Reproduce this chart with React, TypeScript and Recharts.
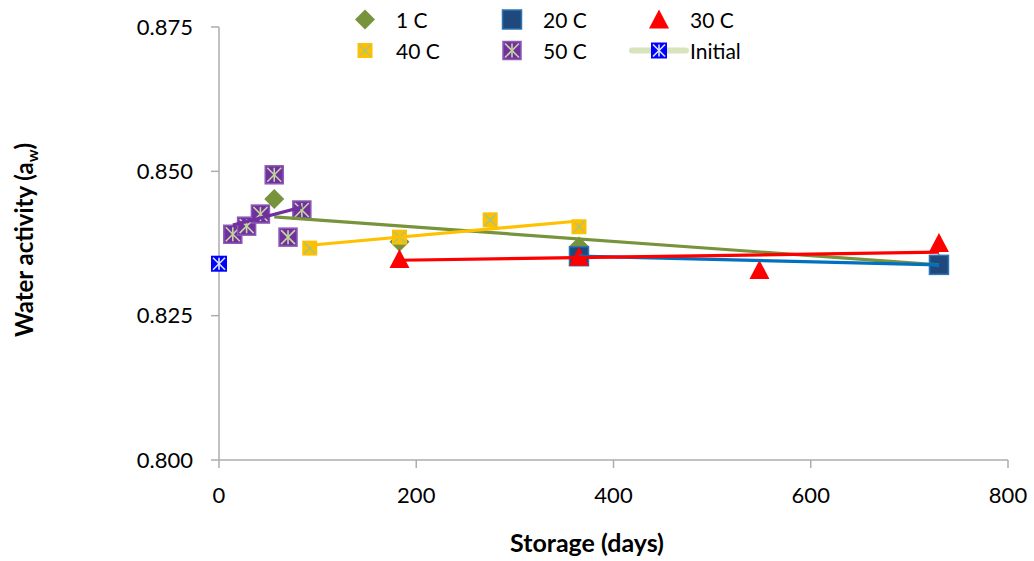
import { ComposedChart, Scatter, XAxis, YAxis, Legend, Label } from "recharts";

const FONT = "Lato, 'Open Sans', sans-serif";
const AXIS = "#ADADAD";

// storage day / water activity readings per temperature
const c1Days = [56, 183, 365, 730];
const c1Aw = [0.8452, 0.8378, 0.837, 0.834];
const c20Days = [365, 730];
const c20Aw = [0.8353, 0.8338];
const c30Days = [183, 365, 548, 730];
const c30Aw = [0.8348, 0.8352, 0.8329, 0.8376];
const c40Days = [92, 183, 275, 365];
const c40Aw = [0.8367, 0.8386, 0.8416, 0.8404];
const c50Days = [14, 28, 42, 56, 70, 84];
const c50Aw = [0.8391, 0.8405, 0.8426, 0.8494, 0.8386, 0.8433];
const initialDays = [0];
const initialAw = [0.834];

// linear trend lines (start / end)
const c1TrendDays = [56, 730];
const c1TrendAw = [0.8421, 0.8338];
const c20TrendDays = [365, 730];
const c20TrendAw = [0.8353, 0.8338];
const c30TrendDays = [183, 730];
const c30TrendAw = [0.8346, 0.836];
const c40TrendDays = [92, 365];
const c40TrendAw = [0.8372, 0.8414];
const c50TrendDays = [14, 84];
const c50TrendAw = [0.8407, 0.8438];

const xTicks = [0, 200, 400, 600, 800];
const yTicks = [0.8, 0.825, 0.85, 0.875];

const pts = (xs: number[], ys: number[]) => xs.map((x, i) => ({ x, y: ys[i] }));

type Kind = "diamond" | "square" | "triangle" | "cross" | "star";

interface MarkerStyle {
  kind: Kind;
  size: number;
  fill: string;
  stroke?: string;
  accent?: string;
}

function Marker({ cx, cy, m }: { cx: number; cy: number; m: MarkerStyle }) {
  const h = m.size / 2;
  if (m.kind === "diamond") {
    return (
      <polygon
        points={`${cx},${cy - h} ${cx + h},${cy} ${cx},${cy + h} ${cx - h},${cy}`}
        fill={m.fill}
      />
    );
  }
  if (m.kind === "triangle") {
    return (
      <polygon
        points={`${cx},${cy - h} ${cx + h},${cy + h * 0.9} ${cx - h},${cy + h * 0.9}`}
        fill={m.fill}
      />
    );
  }
  const i = 2;
  return (
    <g>
      <rect
        x={cx - h}
        y={cy - h}
        width={m.size}
        height={m.size}
        fill={m.fill}
        stroke={m.stroke ?? "none"}
        strokeWidth={1.5}
      />
      {(m.kind === "cross" || m.kind === "star") && (
        <g stroke={m.accent} strokeWidth={1.6}>
          <line x1={cx - h + i} y1={cy - h + i} x2={cx + h - i} y2={cy + h - i} />
          <line x1={cx - h + i} y1={cy + h - i} x2={cx + h - i} y2={cy - h + i} />
          {m.kind === "star" && <line x1={cx} y1={cy - h + i} x2={cx} y2={cy + h - i} />}
        </g>
      )}
    </g>
  );
}

const series = [
  { name: "1 C", data: pts(c1Days, c1Aw), m: { kind: "diamond", size: 20, fill: "#77933C" } as MarkerStyle },
  { name: "20 C", data: pts(c20Days, c20Aw), m: { kind: "square", size: 19, fill: "#1F497D", stroke: "#2E75B6" } as MarkerStyle },
  { name: "30 C", data: pts(c30Days, c30Aw), m: { kind: "triangle", size: 20, fill: "#FF0000" } as MarkerStyle },
  { name: "40 C", data: pts(c40Days, c40Aw), m: { kind: "cross", size: 15, fill: "#FFC000", accent: "#A9C47F" } as MarkerStyle },
  { name: "50 C", data: pts(c50Days, c50Aw), m: { kind: "star", size: 18, fill: "#7030A0", stroke: "#8E5AB8", accent: "#C3D69B" } as MarkerStyle },
  { name: "Initial", data: pts(initialDays, initialAw), m: { kind: "star", size: 16, fill: "#0000FF", accent: "#DCE6F2" } as MarkerStyle },
];

const trends = [
  { data: pts(c1TrendDays, c1TrendAw), color: "#77933C" },
  { data: pts(c20TrendDays, c20TrendAw), color: "#0070C0" },
  { data: pts(c30TrendDays, c30TrendAw), color: "#FF0000" },
  { data: pts(c40TrendDays, c40TrendAw), color: "#FFC000" },
  { data: pts(c50TrendDays, c50TrendAw), color: "#7030A0" },
];

function LegendBox() {
  return (
    <div
      style={{
        display: "grid",
        gridTemplateColumns: "repeat(3, 147px)",
        fontFamily: FONT,
        fontSize: 21,
        color: "#000",
      }}
    >
      {series.map((s) => (
        <div key={s.name} style={{ display: "flex", alignItems: "center", height: 31 }}>
          <svg width={60} height={31} style={{ flex: "none" }}>
            {s.name === "Initial" && (
              <line x1={3} y1={15.5} x2={57} y2={15.5} stroke="#D7E4BD" strokeWidth={6} strokeLinecap="round" />
            )}
            <Marker cx={30} cy={15.5} m={s.m} />
          </svg>
          <span style={{ marginLeft: 1, whiteSpace: "nowrap" }}>{s.name}</span>
        </div>
      ))}
    </div>
  );
}

const noDot = () => <g />;

export default function App() {
  return (
    <div style={{ position: "absolute", left: 0, top: 0, background: "#fff" }}>
      <ComposedChart width={1034} height={561} margin={{ top: 27, right: 26, bottom: 0, left: 0 }}>
        <XAxis
          type="number"
          dataKey="x"
          domain={[0, 800]}
          ticks={xTicks}
          interval={0}
          height={101}
          tickSize={8}
          tickMargin={19}
          axisLine={{ stroke: AXIS, strokeWidth: 1.5 }}
          tickLine={{ stroke: AXIS, strokeWidth: 1.5 }}
          tick={{ fill: "#000", fontSize: 22, fontFamily: FONT }}
        >
          <Label
            content={() => (
              <text x={587} y={552} textAnchor="middle" fontFamily={FONT} fontWeight="bold" fontSize={25} fill="#000">
                Storage (days)
              </text>
            )}
          />
        </XAxis>
        <YAxis
          type="number"
          dataKey="y"
          domain={[0.8, 0.875]}
          ticks={yTicks}
          interval={0}
          width={219}
          tickSize={8}
          tickMargin={18}
          tickFormatter={(v: number) => v.toFixed(3)}
          axisLine={{ stroke: AXIS, strokeWidth: 1.5 }}
          tickLine={{ stroke: AXIS, strokeWidth: 1.5 }}
          tick={{ fill: "#000", fontSize: 22, fontFamily: FONT }}
        >
          <Label
            content={() => (
              <text
                transform="translate(33 240) rotate(-90)"
                textAnchor="middle"
                fontFamily={FONT}
                fontWeight="bold"
                fontSize={24}
                fill="#000"
              >
                Water activity (a
                <tspan fontSize={16} dy={5}>w</tspan>
                <tspan dy={-5}>)</tspan>
              </text>
            )}
          />
        </YAxis>
        <Legend
          verticalAlign="middle"
          layout="horizontal"
          align="center"
          content={() => <LegendBox />}
          wrapperStyle={{ top: 4, left: 335, width: 441 }}
        />
        {series.map((s) => (
          <Scatter
            key={s.name}
            name={s.name}
            data={s.data}
            isAnimationActive={false}
            shape={(p: any) => <Marker cx={p.cx} cy={p.cy} m={s.m} />}
          />
        ))}
        {trends.map((t, k) => (
          <Scatter
            key={`trend-${k}`}
            data={t.data}
            legendType="none"
            isAnimationActive={false}
            line={{ stroke: t.color, strokeWidth: 3.2 }}
            shape={noDot}
          />
        ))}
      </ComposedChart>
    </div>
  );
}
